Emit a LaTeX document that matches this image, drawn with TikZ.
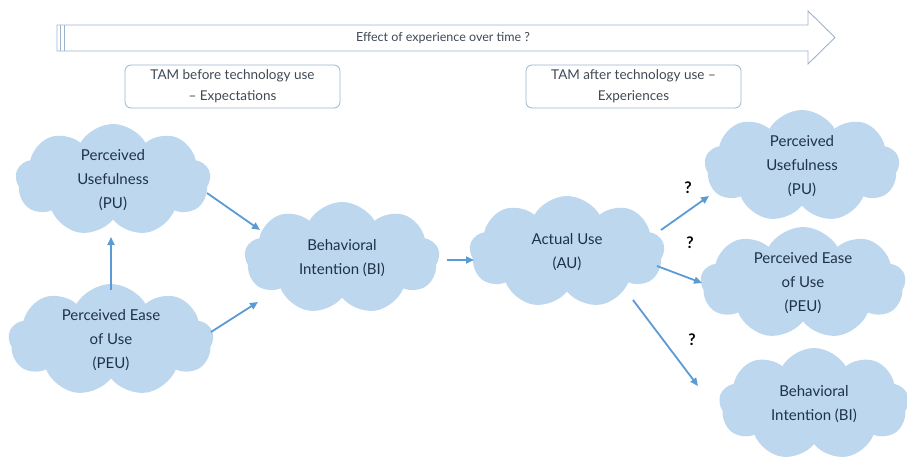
\documentclass[tikz,border=0pt]{standalone}
\usepackage{fontspec}
\setmainfont{Lato}
\usetikzlibrary{shapes.symbols,arrows.meta}
\definecolor{cloudfill}{HTML}{BDD7EE}
\definecolor{cloudtext}{HTML}{1F3347}
\definecolor{arrowblue}{HTML}{5B9BD5}
\definecolor{frameblue}{HTML}{9DB4CF}
\definecolor{boxtext}{HTML}{3F4A55}
\tikzset{
  cl/.style={cloud, cloud puffs=9, cloud puff arc=120, aspect=1.7, fill=cloudfill, draw=none,
    minimum width=#1, minimum height=112pt, inner sep=0pt, align=center, text=cloudtext,
    font=\fontsize{15}{24}\selectfont},
  cl/.default=190pt,
  conn/.style={draw=arrowblue, line width=1.8pt, -{Triangle[length=8pt,width=7pt]}},
  qm/.style={font=\fontsize{16}{16}\selectfont\bfseries, text=black},
  tambox/.style={draw=frameblue, rounded corners=6pt, line width=0.8pt, fill=white,
    minimum width=215pt, minimum height=43pt, align=center, text=boxtext,
    font=\fontsize{13.5}{21}\selectfont, inner sep=0pt}
}
\begin{document}
\begin{tikzpicture}[x=1pt,y=-1pt]
\useasboundingbox (0,0) rectangle (907,457);
% top arrow
\draw[frameblue, line width=0.9pt, fill=white]
  (57,25) -- (808,25) -- (808,11) -- (835,37.5) -- (808,64) -- (808,51) -- (57,51) -- cycle;
\draw[frameblue, line width=0.9pt] (60.5,25) -- (60.5,51) (64,25) -- (64,51);
\node[text=boxtext, font=\fontsize{12.5}{14}\selectfont] (eff) at (443,38) {Effect of experience over time ?};
% boxes
\node[tambox] (tb) at (232.5,86.5) {TAM before technology use\\– Expectations};
\node[tambox] (ta) at (633.5,86.5) {TAM after technology use –\\Experiences};
% clouds
\node[cl=195pt] (pu1) at (113,180) {Perceived\\Usefulness\\(PU)};
\node[cl=205pt] (peu1) at (111,340) {Perceived Ease\\of Use\\(PEU)};
\node[cl=195pt] (bi1) at (342,258) {Behavioral\\Intention (BI)};
\node[cl=195pt] (au) at (567,252) {Actual Use\\(AU)};
\node[cl=195pt] (pu2) at (802,166) {Perceived\\Usefulness\\(PU)};
\node[cl=205pt] (peu2) at (803,283) {Perceived Ease\\of Use\\(PEU)};
\node[cl=190pt] (bi2) at (814,404) {Behavioral\\Intention (BI)};
% connectors
\coordinate (a1s) at (207,193); \coordinate (a1e) at (260,230);
\draw[conn] (a1s) -- (a1e);
\coordinate (a2s) at (211,332); \coordinate (a2e) at (258,302);
\draw[conn] (a2s) -- (a2e);
\coordinate (a3s) at (111,290); \coordinate (a3e) at (111,237);
\draw[conn] (a3s) -- (a3e);
\coordinate (a4s) at (447,260); \coordinate (a4e) at (474,260);
\draw[conn] (a4s) -- (a4e);
\coordinate (a5s) at (661,230); \coordinate (a5e) at (709,196);
\draw[conn] (a5s) -- (a5e);
\coordinate (a6s) at (657,266); \coordinate (a6e) at (702,283);
\draw[conn] (a6s) -- (a6e);
\coordinate (a7s) at (633,300); \coordinate (a7e) at (698,386);
\draw[conn] (a7s) -- (a7e);
\node[qm] (q1) at (688,188) {?};
\node[qm] (q2) at (690,243) {?};
\node[qm] (q3) at (692,340) {?};
\end{tikzpicture}
\end{document}
